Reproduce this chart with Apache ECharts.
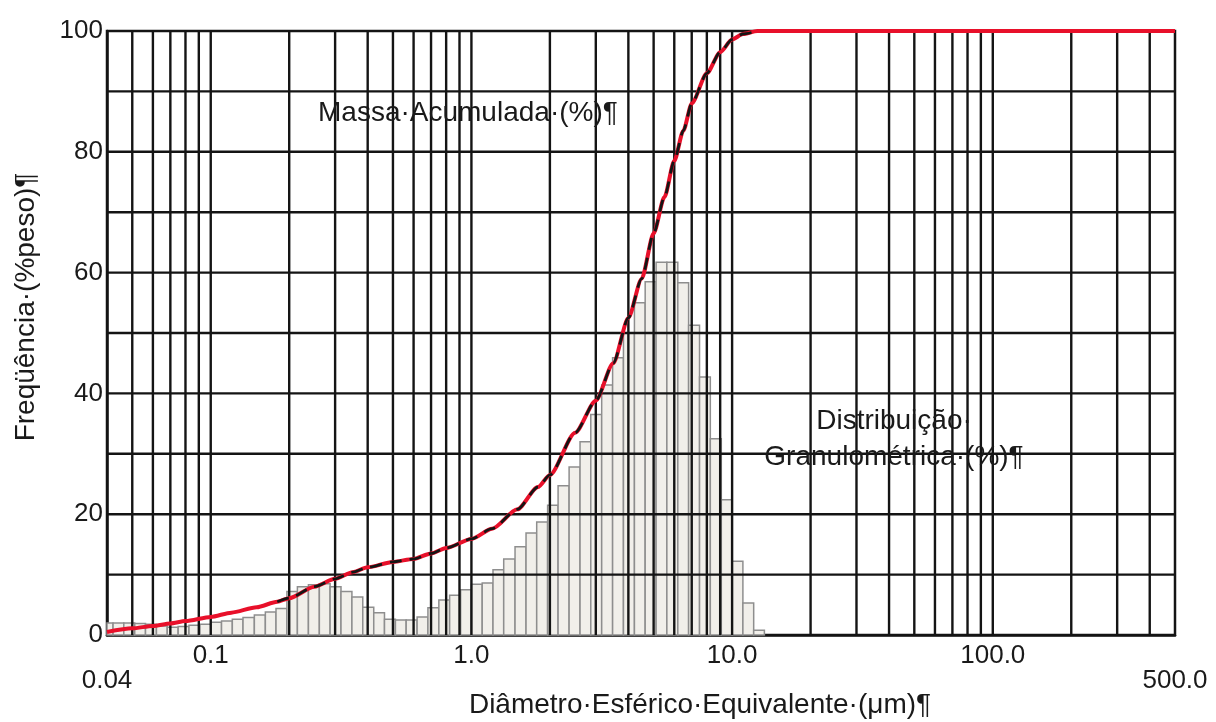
<!DOCTYPE html>
<html>
<head>
<meta charset="utf-8">
<title>Distribuição granulométrica</title>
<script src="https://cdn.jsdelivr.net/npm/echarts@6/dist/echarts.min.js"></script>
<style>
  html, body { margin: 0; padding: 0; background: #ffffff; }
  #chart { width: 1216px; height: 722px; }
</style>
</head>
<body>
<div id="chart"></div>
<script>
// Histogram bins (equivalent spherical diameter, µm): lower/upper edges
const binEdges = [
  0.04, 0.0422, 0.0464, 0.0511, 0.0562, 0.0619, 0.0681, 0.075, 0.0825, 0.0909,
  0.1, 0.110, 0.121, 0.133, 0.147, 0.162, 0.178, 0.196, 0.215, 0.237,
  0.261, 0.287, 0.316, 0.348, 0.383, 0.422, 0.464, 0.511, 0.562, 0.619,
  0.681, 0.750, 0.825, 0.909, 1.0, 1.10, 1.21, 1.33, 1.47, 1.62,
  1.78, 1.96, 2.15, 2.37, 2.61, 2.87, 3.16, 3.48, 3.83, 4.22,
  4.64, 5.11, 5.62, 6.19, 6.81, 7.50, 8.25, 9.09, 10.0, 11.0,
  12.1, 13.3
];
// Distribuição granulométrica (%) per bin
const binFreq = [
  2.0, 2.0, 2.0, 1.9, 1.8, 1.5, 1.3, 1.4, 1.6, 1.8,
  2.1, 2.3, 2.6, 2.9, 3.3, 3.8, 4.4, 7.2, 8.0, 8.3,
  8.5, 8.0, 7.2, 6.3, 4.6, 3.7, 2.6, 2.5, 2.5, 3.0,
  4.5, 5.8, 6.6, 7.5, 8.4, 8.6, 10.8, 12.6, 14.6, 16.9,
  18.7, 21.5, 24.7, 27.8, 32.0, 36.5, 41.4, 45.9, 50.0, 55.0,
  58.5, 61.7, 61.7, 58.3, 51.3, 42.7, 32.5, 22.4, 12.2, 5.3,
  0.8
];

// Massa acumulada (%) against diameter (µm)
const cumDiameter = [
  0.04, 0.05, 0.06, 0.07, 0.08, 0.1, 0.12, 0.15, 0.18, 0.2,
  0.25, 0.3, 0.35, 0.4, 0.5, 0.6, 0.7, 0.8, 1.0, 1.2,
  1.5, 1.8, 2.0, 2.5, 3.0, 3.5, 4.0, 4.5, 5.0, 5.5,
  6.0, 6.5, 7.0, 8.0, 9.0, 10.0, 11.0, 12.5, 15, 20,
  50, 100, 500
];
const cumMass = [
  0.5, 1.1, 1.5, 1.9, 2.3, 3.0, 3.7, 4.6, 5.5, 6.1,
  8.0, 9.3, 10.4, 11.2, 12.1, 12.6, 13.5, 14.4, 15.9, 17.6,
  20.8, 24.5, 26.5, 33.5, 38.8, 45.0, 52.5, 59.0, 66.5, 72.5,
  78.5, 83.5, 88.0, 93.0, 96.5, 98.6, 99.5, 100, 100, 100,
  100, 100, 100
];

// Axis ticks and labels
const xTickValues = [0.04, 0.1, 1, 10, 100, 500];
const xTickLabels = ['0.04', '0.1', '1.0', '10.0', '100.0', '500.0'];
const xMin = 0.04, xMax = 500;
const yMin = 0, yMax = 100, yLabelStep = 20;

// Logarithmic grid: 2..9 within each decade, plus the decade lines
const gridDecades = [0.01, 0.1, 1, 10, 100];
const gridMultipliers = [1, 2, 3, 4, 5, 6, 7, 8, 9];
const yGridValues = [10, 20, 30, 40, 50, 60, 70, 80, 90];

const xGridValues = [];
gridDecades.forEach(d => gridMultipliers.forEach(m => {
  const v = +(d * m).toPrecision(3);
  if (v > xMin * 1.001 && v < xMax * 0.999) xGridValues.push(v);
}));

const barData = binFreq.map((h, i) => [binEdges[i], binEdges[i + 1], h]);
const cumData = cumDiameter.map((d, i) => [d, cumMass[i]]);
// black trace runs over the rising part of the curve
const cumDataInner = cumData.filter(p => p[0] >= 0.18 && p[0] <= 12.5);

const FONT = '"Liberation Sans", Arial, sans-serif';
const TEXT = '#1a1a1a';
const GRID_COLOR = '#141414';

const chart = echarts.init(document.getElementById('chart'), null, { renderer: 'canvas' });

chart.setOption({
  animation: false,
  backgroundColor: '#ffffff',
  grid: {
    left: 107, right: 41, top: 31, bottom: 87,
    show: true, borderColor: GRID_COLOR, borderWidth: 2.5, backgroundColor: 'transparent'
  },
  xAxis: {
    type: 'log', logBase: 10, min: xMin, max: xMax,
    axisLine: { show: true, lineStyle: { color: GRID_COLOR, width: 2.5 } },
    axisTick: { show: false },
    splitLine: { show: false },
    axisLabel: {
      customValues: xTickValues,
      margin: 8,
      fontFamily: FONT, fontSize: 26, color: TEXT,
      formatter: function (v) {
        let idx = 0, best = Infinity;
        xTickValues.forEach((t, i) => {
          const d = Math.abs(Math.log10(v) - Math.log10(t));
          if (d < best) { best = d; idx = i; }
        });
        const edge = idx === 0 || idx === xTickValues.length - 1;
        return (edge ? '{low|' : '{n|') + xTickLabels[idx] + '}';
      },
      rich: {
        n: { fontFamily: FONT, fontSize: 26, color: TEXT },
        low: { fontFamily: FONT, fontSize: 26, color: TEXT, padding: [25, 0, 0, 0] }
      }
    }
  },
  yAxis: {
    type: 'value', min: yMin, max: yMax, interval: yLabelStep,
    axisLine: { show: true, lineStyle: { color: GRID_COLOR, width: 2.5 } },
    axisTick: { show: false },
    splitLine: { show: false },
    axisLabel: {
      margin: 4,
      fontFamily: FONT, fontSize: 26, color: TEXT,
      padding: [0, 0, 20, 0]
    }
  },
  series: [
    {
      name: 'Distribuição Granulométrica (%)',
      type: 'custom',
      z: 1,
      encode: { x: [0, 1], y: 2 },
      data: barData,
      renderItem: function (params, api) {
        const a = api.coord([api.value(0), api.value(2)]);
        const b = api.coord([api.value(1), 0]);
        return {
          type: 'rect',
          shape: { x: a[0], y: a[1], width: b[0] - a[0], height: b[1] - a[1] },
          style: { fill: '#f1efea', stroke: '#8e8e8e', lineWidth: 1.5 }
        };
      }
    },
    {
      name: 'grade vertical',
      type: 'custom',
      z: 2,
      silent: true,
      encode: { x: 0, y: 1 },
      data: xGridValues.map(v => [v, yMin]),
      renderItem: function (params, api) {
        const cs = params.coordSys;
        const x = api.coord([api.value(0), yMin])[0];
        return {
          type: 'line',
          shape: { x1: x, y1: cs.y, x2: x, y2: cs.y + cs.height },
          style: { stroke: GRID_COLOR, lineWidth: 2.4 }
        };
      }
    },
    {
      name: 'grade horizontal',
      type: 'custom',
      z: 2,
      silent: true,
      encode: { x: 0, y: 1 },
      data: yGridValues.map(v => [1, v]),
      renderItem: function (params, api) {
        const cs = params.coordSys;
        const y = api.coord([1, api.value(1)])[1];
        return {
          type: 'line',
          shape: { x1: cs.x, y1: y, x2: cs.x + cs.width, y2: y },
          style: { stroke: GRID_COLOR, lineWidth: 2.4 }
        };
      }
    },
    {
      name: 'Massa Acumulada (%)',
      type: 'line',
      z: 3,
      data: cumData,
      showSymbol: false,
      smooth: 0.25,
      smoothMonotone: 'x',
      lineStyle: { color: '#e8102a', width: 4 }
    },
    {
      name: 'Massa Acumulada (%) – traço',
      type: 'line',
      z: 4,
      data: cumDataInner,
      showSymbol: false,
      smooth: 0.25,
      smoothMonotone: 'x',
      lineStyle: { color: '#151515', width: 2.8, type: [12, 8] }
    }
  ],
  graphic: [
    {
      type: 'text', left: 318, top: 99, z: 10,
      style: { text: 'Massa·Acumulada·(%)¶', font: '28px ' + FONT, fill: TEXT }
    },
    {
      type: 'text', z: 10, x: 894, y: 421,
      style: { text: 'Distribuição·', font: '28px ' + FONT, fill: TEXT, align: 'center', verticalAlign: 'middle' }
    },
    {
      type: 'text', z: 10, x: 894, y: 457,
      style: { text: 'Granulométrica·(%)¶', font: '28px ' + FONT, fill: TEXT, align: 'center', verticalAlign: 'middle' }
    },
    {
      type: 'text', z: 10, x: 26, y: 307, rotation: Math.PI / 2,
      style: { text: 'Freqüência·(%peso)¶', font: '28px ' + FONT, fill: TEXT, align: 'center', verticalAlign: 'middle' }
    },
    {
      type: 'text', z: 10, x: 700, y: 705,
      style: { text: 'Diâmetro·Esférico·Equivalente·(μm)¶', font: '28px ' + FONT, fill: TEXT, align: 'center', verticalAlign: 'middle' }
    }
  ]
});
</script>
</body>
</html>
